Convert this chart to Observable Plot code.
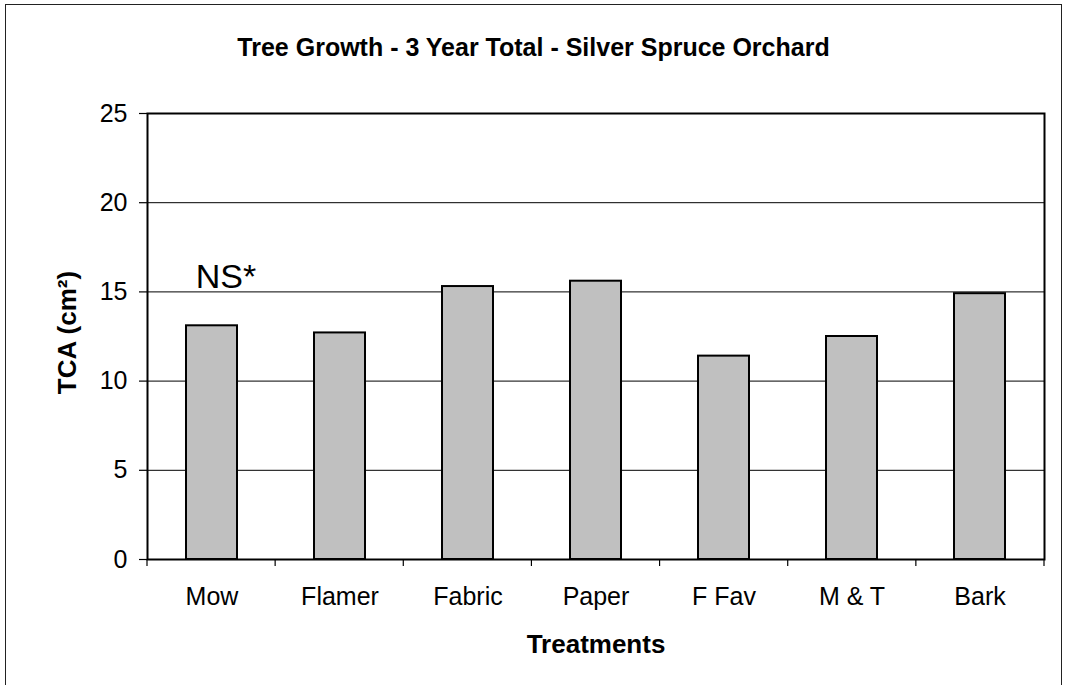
<!DOCTYPE html>
<html>
<head>
<meta charset="utf-8">
<script src="https://cdn.jsdelivr.net/npm/d3@7"></script>
<script src="https://cdn.jsdelivr.net/npm/@observablehq/plot@0.6"></script>
<style>
  html, body { margin: 0; padding: 0; background: #fff; overflow: hidden; }
  #wrap { position: relative; width: 1068px; height: 685px; font-family: "Liberation Sans", Arial, sans-serif; }
  #border { position: absolute; left: 5px; top: 4px; width: 1057px; height: 700px; border: 1.5px solid #222; box-sizing: border-box; pointer-events: none; }
  #title { position: absolute; left: 5px; top: 32px; width: 1057px; text-align: center; font-weight: bold; font-size: 25px; line-height: 30px; color: #000; }
  #chart { position: absolute; left: 0; top: 0; }
</style>
</head>
<body>
<div id="wrap">
  <div id="chart"></div>
  <div id="border"></div>
  <div id="title">Tree Growth - 3 Year Total - Silver Spruce Orchard</div>
</div>
<script>
const categories = ["Mow", "Flamer", "Fabric", "Paper", "F Fav", "M & T", "Bark"];
const values = [13.1, 12.7, 15.3, 15.6, 11.4, 12.5, 14.9];
const yTicks = [0, 5, 10, 15, 20, 25];
const gridTicks = [5, 10, 15, 20];
const annotation = [{category: "Mow", value: 15, label: "NS*"}];

const data = categories.map((c, i) => ({category: c, value: values[i]}));
const font = "Liberation Sans, Arial, sans-serif";

const bandTicks = (index, scales, values, dims) => {
  const g = d3.create("svg:g");
  const n = categories.length;
  const x0 = dims.marginLeft, x1 = dims.width - dims.marginRight;
  const step = (x1 - x0) / n;
  const yb = dims.height - dims.marginBottom;
  for (let i = 0; i <= n; i++) {
    const x = x0 + i * step;
    g.append("line").attr("x1", x).attr("x2", x).attr("y1", yb).attr("y2", yb + 7)
      .attr("stroke", "black").attr("stroke-width", 1.2);
  }
  return g.node();
};

const chart = Plot.plot({
  width: 1068,
  height: 685,
  marginLeft: 147,
  marginRight: 24,
  marginTop: 113,
  marginBottom: 126,
  style: {fontFamily: font, color: "#000", background: "transparent"},
  x: {domain: categories, paddingInner: 0.6, paddingOuter: 0.3, label: null},
  y: {domain: [0, 25], label: null},
  marks: [
    Plot.gridY(gridTicks, {stroke: "black", strokeOpacity: 1, strokeWidth: 1}),
    Plot.barY(data, {x: "category", y: "value", fill: "#c0c0c0", stroke: "black", strokeWidth: 2}),
    Plot.frame({stroke: "black", strokeWidth: 2}),
    Plot.axisY({ticks: yTicks, tickSize: 8, tickPadding: 12, fontSize: 25, stroke: "black", strokeWidth: 1.2, label: null}),
    Plot.axisX({tickSize: 0, tickPadding: 28, fontSize: 25, label: null}),
    bandTicks,
    Plot.text(annotation, {x: "category", y: "value", text: "label", fontSize: 34, dx: 14, dy: -4, lineAnchor: "bottom", fill: "black"}),
    Plot.text(["Treatments"], {frameAnchor: "bottom", dy: 93, fontSize: 26, fontWeight: "bold", fill: "black"}),
    Plot.text(["TCA (cm²)"], {frameAnchor: "left", dx: -80, dy: -4, rotate: -90, textAnchor: "middle", fontSize: 26, fontWeight: "bold", fill: "black"})
  ]
});
document.getElementById("chart").append(chart);
</script>
</body>
</html>
